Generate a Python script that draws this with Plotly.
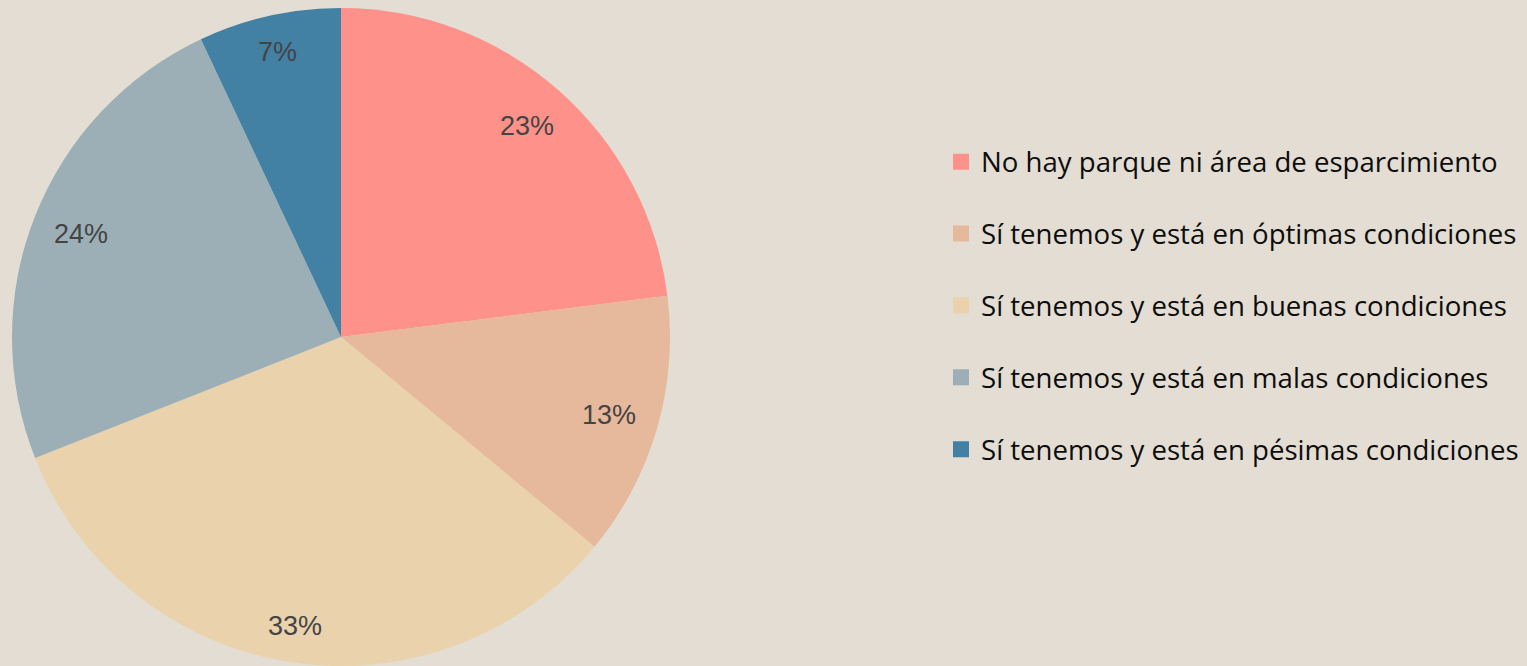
import math
import plotly.graph_objects as go

labels = [
    "No hay parque ni área de esparcimiento",
    "Sí tenemos y está en óptimas condiciones",
    "Sí tenemos y está en buenas condiciones",
    "Sí tenemos y está en malas condiciones",
    "Sí tenemos y está en pésimas condiciones",
]
values = [23, 13, 33, 24, 7]
colors = ["#FE928A", "#E6B89C", "#EAD2AC", "#9CAFB7", "#4281A4"]

BG = "#E3DDD3"
W, H = 1527, 666
CX, CY, R = 341, 337, 329  # pie centre / radius in pixels
LABEL_OUT = 309            # outer extent of label boxes from the centre (px)
FS = 27                    # label font size

fig = go.Figure()
fig.add_trace(go.Pie(
    labels=labels, values=values, sort=False, direction="clockwise", rotation=0,
    marker=dict(colors=colors, line=dict(width=0)),
    textinfo="none",
    showlegend=False, hoverinfo="label+percent",
    domain=dict(x=[(CX - R) / W, (CX + R) / W], y=[(H - CY - R) / H, (H - CY + R) / H]),
))

# percentage labels placed along each slice bisector, box pushed towards the rim
total = sum(values)
cum = 0
for v in values:
    mid = (cum + v / 2) / total * 2 * math.pi
    cum += v
    txt = f"{round(v / total * 100)}%"
    hw = 0.5 * (0.556 * FS * (len(txt) - 1) + 0.889 * FS)
    hh = 0.47 * FS
    s, c = math.sin(mid), math.cos(mid)
    d = LABEL_OUT - (hw * abs(s) + hh * abs(c))
    px = CX + d * s
    py = CY - d * c
    fig.add_annotation(
        x=px / W, y=1 - py / H, xref="paper", yref="paper",
        text=txt, showarrow=False,
        font=dict(family="Liberation Sans, Arial, sans-serif", size=FS, color="#444444"),
        xanchor="center", yanchor="middle",
    )

for i, (lab, col) in enumerate(zip(labels, colors)):
    fig.add_trace(go.Scatter(
        x=[None], y=[None], mode="markers", name=lab,
        marker=dict(symbol="square", size=16, color=col),
        legendgroup=f"g{i}", showlegend=True,
    ))

fig.update_layout(
    width=W, height=H,
    paper_bgcolor=BG, plot_bgcolor=BG,
    margin=dict(l=0, r=0, t=0, b=0, autoexpand=False),
    xaxis=dict(visible=False), yaxis=dict(visible=False),
    legend=dict(
        x=941 / W, y=0.541, xanchor="left", yanchor="middle",
        font=dict(family="Open Sans, sans-serif", size=27.6, color="#0D0D0D"),
        tracegroupgap=33, bgcolor="rgba(0,0,0,0)",
        itemclick=False, itemdoubleclick=False,
    ),
)

fig.write_html("out.html", config={"displayModeBar": False},
               post_script="document.body.style.margin='0';")
